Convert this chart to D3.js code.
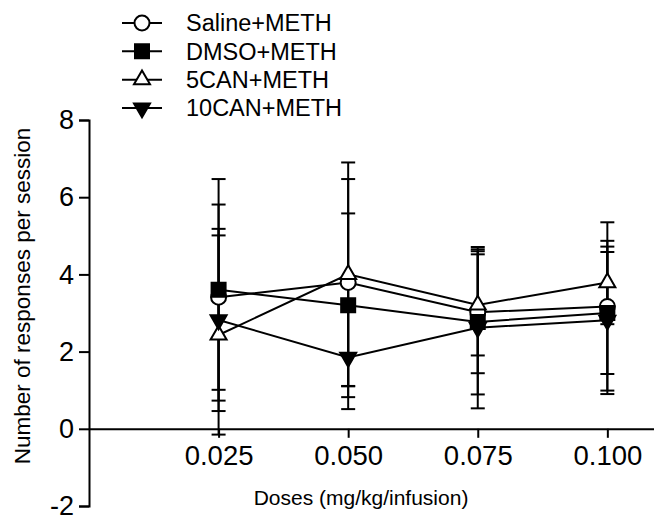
<!DOCTYPE html>
<html lang="en">
    <head>
        <meta charset="UTF-8">
        <title>METH responses</title>
        <script src="https://d3js.org/d3.v7.min.js"></script>
        <style>
            body{ margin: 0; background: white; }
            svg{ display: block; font-family: "Liberation Sans", Arial, sans-serif; }
        </style>
    </head>
    <body>
        <script>
            // values (mean and error half-width)
            const doses = [0.025, 0.050, 0.075, 0.100]
            const doseLabels = ["0.025", "0.050", "0.075", "0.100"]
            const yTicks = [-2, 0, 2, 4, 6, 8]
            const seriesNames = ["Saline+METH", "DMSO+METH", "5CAN+METH", "10CAN+METH"]

            const salineMean = [3.41, 3.79, 3.02, 3.17]
            const salineErr  = [2.40, 2.68, 1.58, 2.18]
            const dmsoMean   = [3.60, 3.20, 2.77, 3.00]
            const dmsoErr    = [2.87, 2.38, 1.88, 1.58]
            const can5Mean   = [2.43, 4.00, 3.21, 3.79]
            const can5Err    = [2.58, 2.90, 1.31, 1.08]
            const can10Mean  = [2.82, 1.85, 2.62, 2.81]
            const can10Err   = [2.36, 1.34, 2.09, 1.91]

            const width = 654, height = 518

            const svg = d3.select("body").append("svg")
                .attr("width", width)
                .attr("height", height)

            const xScale = d3.scaleLinear().domain([0, 0.109]).range([89, 654])
            const yScale = d3.scaleLinear().domain([-2, 8]).range([506, 120])

            const series = [
                {name: seriesNames[0], mean: salineMean, err: salineErr, shape: "circle", fill: "white"},
                {name: seriesNames[1], mean: dmsoMean, err: dmsoErr, shape: "square", fill: "black"},
                {name: seriesNames[2], mean: can5Mean, err: can5Err, shape: "up", fill: "white"},
                {name: seriesNames[3], mean: can10Mean, err: can10Err, shape: "down", fill: "black"}
            ]

            function symbolPath(shape){
                if(shape == "circle") return d3.symbol(d3.symbolCircle, 177)()
                if(shape == "square") return d3.symbol(d3.symbolSquare, 196)()
                return d3.symbol(d3.symbolTriangle, 111)()
            }
            function symbolRotate(shape){ return shape == "down" ? " rotate(180)" : "" }

            // axes
            const yAxis = d3.axisLeft(yScale).tickValues(yTicks)
                .tickFormat(d => String(d))
                .tickSize(10).tickPadding(5)
            const gy = svg.append("g")
                .attr("transform", "translate(89,0)")
                .call(yAxis)
            gy.selectAll("text").attr("font-size", 27).attr("font-family", null)

            const xAxis = d3.axisBottom(xScale).tickValues(doses)
                .tickFormat((d, i) => doseLabels[i])
                .tickSize(9).tickSizeOuter(0).tickPadding(8)
            const gx = svg.append("g")
                .attr("transform", `translate(0,${yScale(0)})`)
                .call(xAxis)
            gx.selectAll("text").attr("font-size", 27.5).attr("font-family", null)

            svg.selectAll(".domain, .tick line").attr("stroke", "black").attr("stroke-width", 2)

            svg.append("text")
                .attr("x", 361).attr("y", 505)
                .attr("text-anchor", "middle")
                .attr("font-size", 21)
                .text("Doses (mg/kg/infusion)")

            svg.append("text")
                .attr("transform", "translate(30,296) rotate(-90)")
                .attr("text-anchor", "middle")
                .attr("font-size", 22.5)
                .text("Number of responses per session")

            // error bars
            const errG = svg.append("g").attr("stroke", "black").attr("stroke-width", 2)
            series.forEach(s => {
                doses.forEach((d, i) => {
                    const x = xScale(d)
                    const lo = yScale(s.mean[i] - s.err[i]), hi = yScale(s.mean[i] + s.err[i])
                    errG.append("line").attr("x1", x).attr("x2", x).attr("y1", lo).attr("y2", hi)
                    errG.append("line").attr("x1", x - 7).attr("x2", x + 7).attr("y1", lo).attr("y2", lo)
                    errG.append("line").attr("x1", x - 7).attr("x2", x + 7).attr("y1", hi).attr("y2", hi)
                })
            })

            // lines
            const line = d3.line().x((d, i) => xScale(doses[i])).y(d => yScale(d))
            svg.append("g").selectAll("path")
                .data(series)
                .enter()
                .append("path")
                .attr("d", s => line(s.mean))
                .attr("fill", "none")
                .attr("stroke", "black")
                .attr("stroke-width", 2)

            // markers
            series.forEach(s => {
                svg.append("g").selectAll("path")
                    .data(s.mean)
                    .enter()
                    .append("path")
                    .attr("d", symbolPath(s.shape))
                    .attr("transform", (d, i) => `translate(${xScale(doses[i])},${yScale(d)})` + symbolRotate(s.shape))
                    .attr("fill", s.fill)
                    .attr("stroke", "black")
                    .attr("stroke-width", 2)
            })

            // legend
            const legendY = d3.scalePoint().domain(seriesNames).range([23, 108])
            const legend = svg.append("g").selectAll("g")
                .data(series)
                .enter()
                .append("g")
                .attr("transform", s => `translate(0,${legendY(s.name)})`)
            legend.append("line")
                .attr("x1", 122).attr("x2", 162)
                .attr("stroke", "black").attr("stroke-width", 2)
            legend.append("path")
                .attr("d", s => symbolPath(s.shape))
                .attr("transform", s => "translate(142,0)" + symbolRotate(s.shape))
                .attr("fill", s => s.fill)
                .attr("stroke", "black")
                .attr("stroke-width", 2)
            legend.append("text")
                .attr("x", 186).attr("dy", "0.36em")
                .attr("font-size", 23.5)
                .text(s => s.name)
        </script>
    </body>
</html>
